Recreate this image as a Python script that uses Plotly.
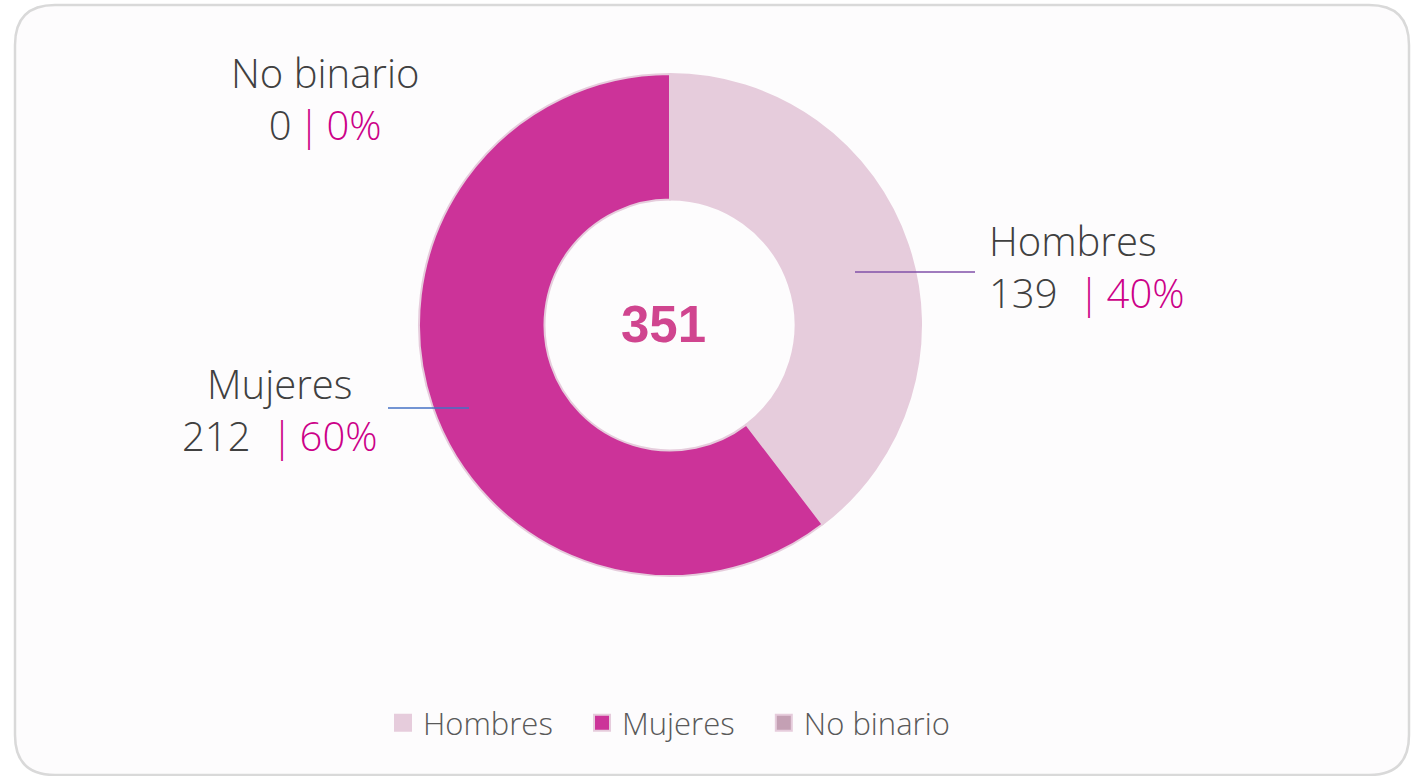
import plotly.graph_objects as go

categories = ["Hombres", "Mujeres", "No binario"]
values = [139, 212, 0]
colors = ["#E6CCDC", "#CC3399", "#C4A0B4"]
total_label = str(sum(values))

W, H = 1412, 776
total = sum(values)
pcts = [round(v / total * 100) for v in values]

fig = go.Figure()
fig.add_trace(go.Pie(
    labels=categories,
    values=values,
    hole=0.5,
    sort=False,
    direction="clockwise",
    rotation=0,
    textinfo="none",
    hoverinfo="label+value+percent",
    marker=dict(colors=colors, line=dict(color="#E6CCDC", width=2)),
    domain=dict(x=[(670 - 251) / W, (670 + 251) / W], y=[1 - 576 / H, 1 - 74 / H]),
    showlegend=False,
))

# legend entries (square swatches) built from the same categories / colours
NB = "\u00a0"
for i, (name, col) in enumerate(zip(categories, colors)):
    pad = NB * 3 if i < len(categories) - 1 else ""
    fig.add_trace(go.Scatter(
        x=[None], y=[None], mode="markers", name=name + pad,
        marker=dict(symbol="square", size=16, color=col, line=dict(color="#E6CCDC", width=2)),
        showlegend=True, hoverinfo="skip",
    ))

font = "'Open Sans', sans-serif"
txt = "#404040"
pc = "#CC0088"
TS = "&#8201;"


def lab(name, val, pct, x, y, align, xanchor, gap):
    fig.add_annotation(x=x / W, y=1 - y / H, xref="paper", yref="paper",
                       text=f"{name}<br>{val}{gap}<span style='color:{pc}'>|{TS}{pct}%</span>",
                       showarrow=False, align=align, xanchor=xanchor, yanchor="middle",
                       font=dict(family=font, size=40, color=txt, weight=300))


lab(categories[0], values[0], pcts[0], 987, 266, "left", "left", "  ")
lab(categories[1], values[1], pcts[1], 280, 409, "center", "center", "  ")
lab(categories[2], values[2], pcts[2], 325, 98, "center", "center", TS)

# center total
fig.add_annotation(x=663 / W, y=1 - 324 / H, xref="paper", yref="paper", text=f"<b>{total_label}</b>",
                   showarrow=False, font=dict(family="Liberation Sans, Arial, sans-serif", size=51, color="#D0458F"))

# leader lines
fig.add_shape(type="line", xref="paper", yref="paper", x0=855 / W, x1=975 / W, y0=1 - 272 / H, y1=1 - 272 / H,
              line=dict(color="#8050A8", width=1.5))
fig.add_shape(type="line", xref="paper", yref="paper", x0=388 / W, x1=469 / W, y0=1 - 408 / H, y1=1 - 408 / H,
              line=dict(color="#4472C4", width=1.5))

# card background
r = 40
x0, y0, x1, y1 = 15, 5, 1409, 775
path = (f"M {x0 + r},{y0} L {x1 - r},{y0} Q {x1},{y0} {x1},{y0 + r} L {x1},{y1 - r} Q {x1},{y1} {x1 - r},{y1} "
        f"L {x0 + r},{y1} Q {x0},{y1} {x0},{y1 - r} L {x0},{y0 + r} Q {x0},{y0} {x0 + r},{y0} Z")
fig.add_shape(type="path", xref="x", yref="y", path=path, fillcolor="#FDFCFD",
              line=dict(color="#D9D9D9", width=2.5), layer="below")

fig.update_xaxes(range=[0, W], visible=False, fixedrange=True)
fig.update_yaxes(range=[H, 0], visible=False, fixedrange=True)

fig.update_layout(
    width=W, height=H,
    margin=dict(l=0, r=0, t=0, b=0),
    paper_bgcolor="white",
    plot_bgcolor="rgba(0,0,0,0)",
    legend=dict(orientation="h", x=669 / W, xanchor="center", y=1 - 723 / H, yanchor="middle",
                font=dict(family=font, size=31, color="#595959", weight=300), bgcolor="rgba(0,0,0,0)",
                itemclick=False, itemdoubleclick=False, itemwidth=30, tracegroupgap=0),
)

fig.write_html("out.html", config={"displayModeBar": False},
               post_script="document.body.style.margin='0';document.body.style.overflow='hidden';")
